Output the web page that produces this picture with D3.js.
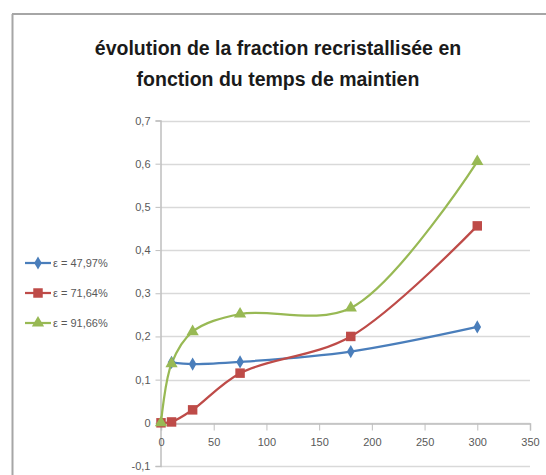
<!DOCTYPE html>
<html>
<head>
<meta charset="utf-8">
<script src="https://cdn.jsdelivr.net/npm/d3@7"></script>
<style>
  body { margin: 0; background: #fff; }
  svg { display: block; }
</style>
</head>
<body>
<div id="chart"></div>
<script>
// chart values
var seriesNames = ["\u03b5 = 47,97%", "\u03b5 = 71,64%", "\u03b5 = 91,66%"];
var seriesColors = ["#4a7ebb", "#be4b48", "#98b954"];
var seriesMarkers = ["diamond", "square", "triangle"];

var blueTimes = [10, 30, 75, 180, 300];
var blueValues = [0.14, 0.136, 0.141, 0.165, 0.222];

var redTimes = [0, 10, 30, 75, 180, 300];
var redValues = [0, 0.002, 0.03, 0.115, 0.2, 0.456];

var greenTimes = [0, 10, 30, 75, 180, 300];
var greenValues = [0, 0.137, 0.211, 0.252, 0.266, 0.605];

var xTicks = [0, 50, 100, 150, 200, 250, 300, 350];
var yTicks = [-0.1, 0, 0.1, 0.2, 0.3, 0.4, 0.5, 0.6, 0.7];

var titleLines = ["\u00e9volution de la fraction recristallis\u00e9e en", "fonction du temps de maintien"];

var width = 546, height = 475;

var svg = d3.select("#chart").append("svg")
    .attr("width", width)
    .attr("height", height);

// outer frame (only top and left visible in the crop)
svg.append("line")
    .attr("x1", 12).attr("x2", width).attr("y1", 14).attr("y2", 14)
    .attr("stroke", "#a6a6a6").attr("stroke-width", 2);
svg.append("line")
    .attr("x1", 12.5).attr("x2", 12.5).attr("y1", 14).attr("y2", height)
    .attr("stroke", "#a6a6a6").attr("stroke-width", 2);

svg.selectAll("text.title")
    .data(titleLines)
    .enter().append("text")
    .attr("class", "title")
    .attr("x", 278)
    .attr("y", function (d, i) { return 55 + i * 31; })
    .attr("text-anchor", "middle")
    .attr("font-family", "'Liberation Sans Narrow', 'Liberation Sans', sans-serif")
    .attr("font-weight", "bold")
    .attr("font-size", "19.5px")
    .attr("fill", "#1a1a1a")
    .text(function (d) { return d; });

var x = d3.scaleLinear().domain([0, 350]).range([161, 530]);
var y = d3.scaleLinear().domain([-0.1, 0.7]).range([466, 120.5]);

var fr = d3.formatLocale({ decimal: ",", thousands: " ", grouping: [3], currency: ["", ""], minus: "-" });
var yFmt = function (d) { return d === 0 ? "0" : fr.format(".1f")(d); };

var grid = svg.append("g");
grid.selectAll("line.y")
    .data(yTicks)
    .enter().append("line")
    .attr("class", "y")
    .attr("x1", x(0)).attr("x2", x(350))
    .attr("y1", function (d) { return Math.round(y(d)) + 0.5; })
    .attr("y2", function (d) { return Math.round(y(d)) + 0.5; })
    .attr("stroke", "#d9d9d9")
    .attr("stroke-width", 1.5);

// y axis
var yAxis = d3.axisLeft(y).tickValues(yTicks).tickFormat(yFmt).tickSize(5).tickPadding(5);
var gy = svg.append("g").attr("transform", "translate(" + (x(0) - 0.5) + ",0)").call(yAxis);
gy.select(".domain").attr("stroke", "#bfbfbf").attr("stroke-width", 1.5);
gy.selectAll(".tick line").attr("stroke", "#bfbfbf");
gy.selectAll(".tick text")
    .attr("font-family", "'Liberation Sans Narrow', 'Liberation Sans', sans-serif")
    .attr("font-size", "11px")
    .attr("fill", "#595959");

// x axis at value 0
var xAxis = d3.axisBottom(x).tickValues(xTicks).tickFormat(d3.format("d")).tickSize(7).tickPadding(8);
var gx = svg.append("g").attr("transform", "translate(0," + (Math.round(y(0)) + 0.5) + ")").call(xAxis);
gx.select(".domain").attr("stroke", "#bfbfbf").attr("stroke-width", 1.5);
gx.selectAll(".tick line").attr("stroke", "#bfbfbf");
gx.selectAll(".tick text")
    .attr("font-family", "'Liberation Sans Narrow', 'Liberation Sans', sans-serif")
    .attr("font-size", "11px")
    .attr("fill", "#595959");

var series = [
    { times: blueTimes, values: blueValues },
    { times: redTimes, values: redValues },
    { times: greenTimes, values: greenValues }
];

var symbolTypes = { diamond: d3.symbolDiamond, square: d3.symbolSquare, triangle: d3.symbolTriangle };
var symbolSizes = { diamond: 50, square: 90, triangle: 65 };

var line = d3.line()
    .x(function (d) { return x(d[0]); })
    .y(function (d) { return y(d[1]); })
    .curve(d3.curveCatmullRom.alpha(0.5));

var plot = svg.append("g");
series.forEach(function (s, i) {
    var pts = s.times.map(function (t, j) { return [t, s.values[j]]; });
    plot.append("path")
        .datum(pts)
        .attr("d", line)
        .attr("fill", "none")
        .attr("stroke", seriesColors[i])
        .attr("stroke-width", 2.25);
});
series.forEach(function (s, i) {
    var pts = s.times.map(function (t, j) { return [t, s.values[j]]; });
    var m = seriesMarkers[i];
    plot.selectAll("path.m" + i)
        .data(pts)
        .enter().append("path")
        .attr("class", "m" + i)
        .attr("transform", function (d) { return "translate(" + x(d[0]) + "," + y(d[1]) + ")"; })
        .attr("d", d3.symbol().type(symbolTypes[m]).size(symbolSizes[m]))
        .attr("fill", seriesColors[i]);
});

// legend
var legend = svg.append("g");
seriesNames.forEach(function (name, i) {
    var ly = 263 + i * 30;
    legend.append("line")
        .attr("x1", 25).attr("x2", 51).attr("y1", ly).attr("y2", ly)
        .attr("stroke", seriesColors[i]).attr("stroke-width", 2.25);
    legend.append("path")
        .attr("transform", "translate(38," + ly + ")")
        .attr("d", d3.symbol().type(symbolTypes[seriesMarkers[i]]).size(symbolSizes[seriesMarkers[i]]))
        .attr("fill", seriesColors[i]);
    legend.append("text")
        .attr("x", 53).attr("y", ly + 4)
        .attr("font-family", "'Liberation Sans Narrow', 'Liberation Sans', sans-serif")
        .attr("font-size", "11px")
        .attr("fill", "#595959")
        .text(name);
});
</script>
</body>
</html>
